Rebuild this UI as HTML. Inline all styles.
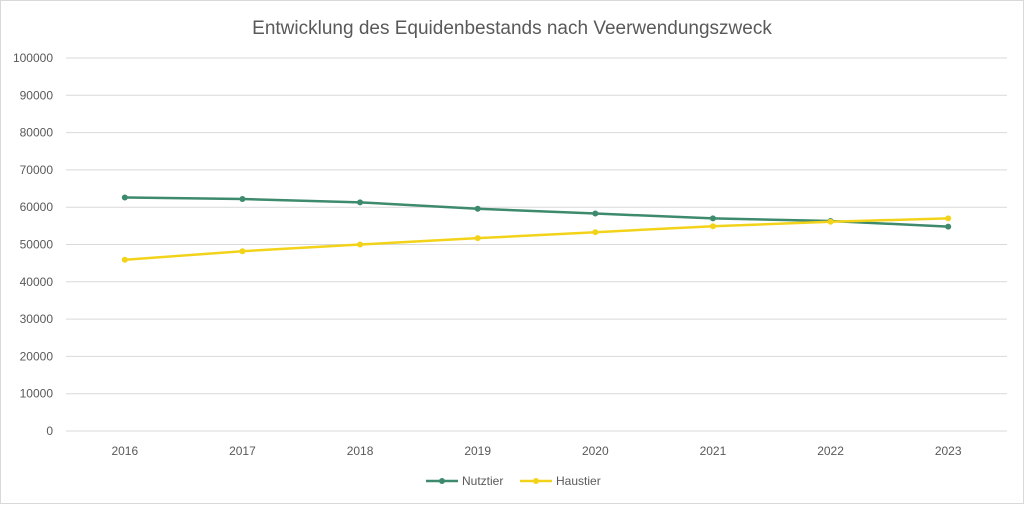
<!DOCTYPE html>
<html><head><meta charset="utf-8"><style>
body{margin:0;background:#fff;font-family:"Liberation Sans",sans-serif}
svg text{font-family:"Liberation Sans",sans-serif}
</style></head><body>
<svg width="1024" height="504" xmlns="http://www.w3.org/2000/svg">
<rect x="0.5" y="0.5" width="1023" height="503" fill="#fff" stroke="#d9d9d9"/>
<text x="512" y="34" text-anchor="middle" font-size="19" fill="#595959">Entwicklung des Equidenbestands nach Veerwendungszweck</text>
<g id="grid"></g><g id="series"></g>
<g>
<line x1="426" y1="481" x2="458" y2="481" stroke="#3e8a6c" stroke-width="2.5"/><circle cx="442" cy="481" r="3" fill="#3e8a6c"/>
<text x="462" y="485" font-size="12" fill="#595959">Nutztier</text>
<line x1="520" y1="481" x2="552" y2="481" stroke="#f2d31a" stroke-width="2.5"/><circle cx="536" cy="481" r="3" fill="#f2d31a"/>
<text x="556" y="485" font-size="12" fill="#595959">Haustier</text>
</g>
</svg>
<script>
const years=["2016","2017","2018","2019","2020","2021","2022","2023"];
const nutztier=[62600,62200,61300,59600,58300,57000,56300,54800];
const haustier=[45900,48200,50000,51700,53300,54900,56100,57000];
const yTicks=[0,10000,20000,30000,40000,50000,60000,70000,80000,90000,100000];
const NS="http://www.w3.org/2000/svg";
const x0=66,x1=1007,y0=431,y1=58;
const xs=i=>x0+(x1-x0)*(i+0.5)/years.length;
const ys=v=>y0-(y0-y1)*v/100000;
const g=document.getElementById('grid'),s=document.getElementById('series');
function mk(tag,at,p){const e=document.createElementNS(NS,tag);for(const k in at)e.setAttribute(k,at[k]);p.appendChild(e);return e;}
yTicks.forEach(t=>{
 const l=mk('line',{x1:x0,x2:x1,y1:ys(t),y2:ys(t),stroke:'#d9d9d9','stroke-width':1},g);
 
 
 const tx=mk('text',{x:53,y:ys(t)+4,'text-anchor':'end','font-size':12,fill:'#595959'},g);tx.textContent=t;
 
 
});
years.forEach((y,i)=>{
 const tx=mk('text',{x:xs(i),y:455,'text-anchor':'middle','font-size':12,fill:'#595959'},g);tx.textContent=y;
 
 
});
function draw(data,col,name){
 const p=mk('polyline',{points:data.map((v,i)=>xs(i)+','+ys(v)).join(' '),fill:'none',stroke:col,'stroke-width':2.5},s);
 
 
 data.forEach((v,i)=>{const c=mk('circle',{cx:xs(i),cy:ys(v),r:3,fill:col},s);
  
  });
}
draw(nutztier,'#3e8a6c','nutztier');
draw(haustier,'#f2d31a','haustier');
</script>
</body></html>
